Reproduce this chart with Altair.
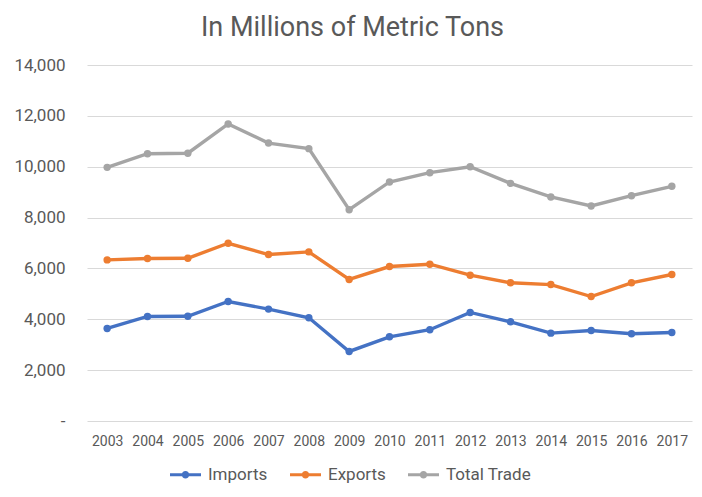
import altair as alt
import pandas as pd

years = [str(y) for y in range(2003, 2018)]
imports = [3640, 4110, 4120, 4700, 4400, 4060, 2735, 3310, 3590, 4270, 3900, 3455, 3560, 3430, 3480]
exports = [6335, 6390, 6400, 6990, 6545, 6650, 5565, 6075, 6165, 5735, 5435, 5365, 4895, 5435, 5760]
total = [9975, 10510, 10530, 11680, 10930, 10710, 8310, 9400, 9765, 10000, 9345, 8810, 8455, 8860, 9230]

series = ["Imports", "Exports", "Total Trade"]
colors = ["#4472C4", "#ED7D31", "#A5A5A5"]

rows = []
for name, vals in zip(series, [imports, exports, total]):
    for yr, v in zip(years, vals):
        rows.append({"Year": yr, "Value": v, "Series": name})
df = pd.DataFrame(rows)

font = "Roboto"
sym = ("M-1,-0.1L-0.15,-0.1L-0.15,0.1L-1,0.1Z "
       "M0.15,-0.1L1,-0.1L1,0.1L0.15,0.1Z "
       "M-0.24,0A0.24,0.24 0 1,1 0.24,0A0.24,0.24 0 1,1 -0.24,0Z")

x = alt.X("Year:N", title=None,
          axis=alt.Axis(labelAngle=0, labelFontSize=14, labelColor="#595959",
                        labelFont=font, domain=False, ticks=False, labelPadding=13))
y = alt.Y("Value:Q", title=None,
          scale=alt.Scale(domain=[0, 14000]),
          axis=alt.Axis(values=list(range(0, 14001, 2000)),
                        labelExpr="datum.value == 0 ? '-' : format(datum.value, ',')",
                        labelFontSize=17, labelColor="#595959", labelFont=font,
                        domain=False, ticks=False, labelPadding=22,
                        gridColor="#D9D9D9", gridWidth=1))
color = alt.Color("Series:N", title=None,
                  scale=alt.Scale(domain=series, range=colors),
                  sort=series,
                  legend=alt.Legend(orient="none", direction="horizontal",
                                    legendX=83, legendY=394,
                                    symbolType=sym, symbolSize=961,
                                    symbolStrokeWidth=0,
                                    labelFontSize=17, labelColor="#595959",
                                    labelFont=font, labelOffset=7,
                                    columnPadding=22))

base = alt.Chart(df)
points = base.mark_point(filled=True, size=55, opacity=1).encode(x=x, y=y, color=color)
lines = base.mark_line(strokeWidth=3.4).encode(x=x, y=y, color=color)

chart = alt.layer(points, lines).properties(
    width=605, height=356,
    title=alt.TitleParams("In Millions of Metric Tons", fontSize=27, font=font,
                          color="#595959", fontWeight="normal", anchor="middle",
                          offset=14, dx=-37),
    padding={"left": 79, "top": 57, "right": 2, "bottom": 68},
    autosize=alt.AutoSizeParams(type="none"),
).configure_view(stroke=None).configure_scale(bandPaddingInner=0, bandPaddingOuter=0)

chart.save("out.html", embed_options={"renderer": "svg", "actions": False})
